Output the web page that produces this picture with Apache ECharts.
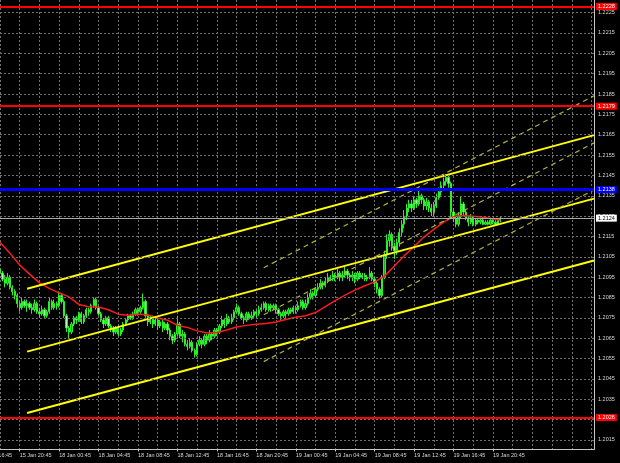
<!DOCTYPE html>
<html><head><meta charset="utf-8">
<script src="https://cdn.jsdelivr.net/npm/echarts/dist/echarts.min.js"></script>
<style>html,body{margin:0;padding:0;background:#000}#c{width:620px;height:463px}</style>
</head><body><div id="c"></div>
<script>
// ---- data (EURUSD M15) ----
const opens = [
1.2099,1.2097,1.2094,1.2092,1.2095,1.2090,1.2088,1.2086,1.2082,1.2080,
1.2083,1.2081,1.2082,1.2080,1.2079,1.2082,1.2078,1.2077,1.2079,1.2076,
1.2078,1.2083,1.2080,1.2082,1.2081,1.2086,1.2083,1.2076,1.2070,1.2068,
1.2072,1.2075,1.2074,1.2077,1.2073,1.2076,1.2079,1.2078,1.2081,1.2084,
1.2080,1.2077,1.2074,1.2072,1.2075,1.2071,1.2070,1.2068,1.2070,1.2067,
1.2069,1.2072,1.2074,1.2076,1.2075,1.2077,1.2079,1.2078,1.2080,1.2083,
1.2076,1.2073,1.2075,1.2072,1.2074,1.2071,1.2073,1.2070,1.2072,1.2069,
1.2066,1.2064,1.2067,1.2072,1.2066,1.2067,1.2062,1.2061,1.2063,1.2059,
1.2057,1.2062,1.2064,1.2062,1.2066,1.2064,1.2067,1.2066,1.2069,1.2068,
1.2071,1.2074,1.2072,1.2075,1.2073,1.2075,1.2078,1.2080,1.2077,1.2075,
1.2074,1.2077,1.2075,1.2076,1.2078,1.2077,1.2079,1.2080,1.2082,1.2079,
1.2081,1.2080,1.2081,1.2079,1.2077,1.2076,1.2078,1.2077,1.2079,1.2078,
1.2080,1.2079,1.2081,1.2083,1.2080,1.2082,1.2085,1.2087,1.2086,1.2089,
1.2090,1.2092,1.2091,1.2093,1.2095,1.2094,1.2096,1.2095,1.2097,1.2095,
1.2096,1.2098,1.2096,1.2095,1.2096,1.2094,1.2097,1.2095,1.2096,1.2094,
1.2095,1.2097,1.2094,1.2092,1.2089,1.2086,1.2095,1.2106,1.2113,1.2116,
1.2110,1.2108,1.2112,1.2117,1.2121,1.2125,1.2129,1.2131,1.2129,1.2133,
1.2131,1.2135,1.2133,1.2130,1.2132,1.2129,1.2127,1.2130,1.2134,1.2137,
1.2140,1.2142,1.2144,1.2141,1.2127,1.2124,1.2121,1.2125,1.2131,1.2127,
1.2124,1.2122,1.2124,1.2121,1.2123,1.2122,1.2123,1.2121,1.2122,1.2121,
1.2123,1.2122,1.2121,1.2123];
const closes = [
1.2097,1.2094,1.2092,1.2095,1.2090,1.2088,1.2086,1.2082,1.2080,1.2083,
1.2081,1.2082,1.2080,1.2079,1.2082,1.2078,1.2077,1.2079,1.2076,1.2078,
1.2083,1.2080,1.2082,1.2081,1.2086,1.2083,1.2076,1.2070,1.2068,1.2072,
1.2075,1.2074,1.2077,1.2073,1.2076,1.2079,1.2078,1.2081,1.2084,1.2080,
1.2077,1.2074,1.2072,1.2075,1.2071,1.2070,1.2068,1.2070,1.2067,1.2069,
1.2072,1.2074,1.2076,1.2075,1.2077,1.2079,1.2078,1.2080,1.2083,1.2076,
1.2073,1.2075,1.2072,1.2074,1.2071,1.2073,1.2070,1.2072,1.2069,1.2066,
1.2064,1.2067,1.2072,1.2066,1.2067,1.2062,1.2061,1.2063,1.2059,1.2057,
1.2062,1.2064,1.2062,1.2066,1.2064,1.2067,1.2066,1.2069,1.2068,1.2071,
1.2074,1.2072,1.2075,1.2073,1.2075,1.2078,1.2080,1.2077,1.2075,1.2074,
1.2077,1.2075,1.2076,1.2078,1.2077,1.2079,1.2080,1.2082,1.2079,1.2081,
1.2080,1.2081,1.2079,1.2077,1.2076,1.2078,1.2077,1.2079,1.2078,1.2080,
1.2079,1.2081,1.2083,1.2080,1.2082,1.2085,1.2087,1.2086,1.2089,1.2090,
1.2092,1.2091,1.2093,1.2095,1.2094,1.2096,1.2095,1.2097,1.2095,1.2096,
1.2098,1.2096,1.2095,1.2096,1.2094,1.2097,1.2095,1.2096,1.2094,1.2095,
1.2097,1.2094,1.2092,1.2089,1.2086,1.2095,1.2106,1.2113,1.2116,1.2110,
1.2108,1.2112,1.2117,1.2121,1.2125,1.2129,1.2131,1.2129,1.2133,1.2131,
1.2135,1.2133,1.2130,1.2132,1.2129,1.2127,1.2130,1.2134,1.2137,1.2140,
1.2142,1.2144,1.2141,1.2127,1.2124,1.2121,1.2125,1.2131,1.2127,1.2124,
1.2122,1.2124,1.2121,1.2123,1.2122,1.2123,1.2121,1.2122,1.2121,1.2123,
1.2122,1.2121,1.2123,1.2124];
const lows = [
1.2095,1.2093,1.2090,1.2091,1.2089,1.2086,1.2084,1.2080,1.2078,1.2079,
1.2080,1.2078,1.2079,1.2077,1.2078,1.2077,1.2075,1.2076,1.2075,1.2075,
1.2077,1.2079,1.2079,1.2079,1.2080,1.2082,1.2075,1.2068,1.2065,1.2067,
1.2071,1.2072,1.2073,1.2072,1.2072,1.2075,1.2076,1.2077,1.2080,1.2079,
1.2076,1.2073,1.2070,1.2071,1.2070,1.2068,1.2066,1.2067,1.2066,1.2066,
1.2068,1.2071,1.2073,1.2074,1.2074,1.2076,1.2076,1.2077,1.2079,1.2075,
1.2071,1.2072,1.2070,1.2071,1.2069,1.2070,1.2068,1.2069,1.2067,1.2064,
1.2062,1.2063,1.2066,1.2065,1.2063,1.2061,1.2059,1.2060,1.2058,1.20555,
1.2056,1.2061,1.2060,1.2061,1.2062,1.2063,1.2064,1.2065,1.2066,1.2067,
1.2070,1.2070,1.2071,1.2072,1.2072,1.2074,1.2077,1.2076,1.2074,1.2072,
1.2073,1.2074,1.2074,1.2075,1.2075,1.2076,1.2078,1.2079,1.2078,1.2078,
1.2078,1.2079,1.2077,1.2076,1.2074,1.2075,1.2075,1.2076,1.2077,1.2077,
1.2077,1.2078,1.2080,1.2079,1.2079,1.2081,1.2084,1.2084,1.2085,1.2088,
1.2089,1.2089,1.2090,1.2092,1.2093,1.2093,1.2093,1.2094,1.2093,1.2093,
1.2095,1.2094,1.2093,1.2093,1.2092,1.2093,1.2094,1.2094,1.2093,1.2093,
1.2094,1.2093,1.2090,1.2087,1.20845,1.2085,1.2094,1.2104,1.2110,1.2108,
1.2104,1.2106,1.2110,1.2115,1.2119,1.2123,1.2127,1.2127,1.2128,1.2129,
1.2130,1.2131,1.2128,1.2128,1.2127,1.2125,1.2125,1.2129,1.2133,1.2135,
1.2138,1.2140,1.2139,1.21235,1.2122,1.21195,1.2120,1.2124,1.2125,1.2123,
1.2120,1.2121,1.2120,1.2120,1.2121,1.2121,1.21205,1.21205,1.21205,1.21205,
1.2121,1.21205,1.21205,1.2122];
const highs = [
1.2101,1.2098,1.2096,1.2097,1.2096,1.2091,1.2089,1.2087,1.2083,1.2085,
1.2084,1.2084,1.2083,1.2082,1.2084,1.2083,1.2080,1.2081,1.2080,1.2079,
1.2085,1.2084,1.2084,1.2083,1.2088,1.2087,1.2084,1.2077,1.2071,1.2073,
1.2076,1.2076,1.2078,1.2078,1.2077,1.2080,1.2080,1.2082,1.2085,1.2085,
1.2081,1.2078,1.2075,1.2076,1.2076,1.2072,1.2071,1.2071,1.2071,1.2070,
1.2073,1.2075,1.2077,1.2077,1.2078,1.2080,1.2080,1.2081,1.2087,1.2084,
1.2077,1.2076,1.2076,1.2075,1.2075,1.2074,1.2074,1.2073,1.2073,1.2070,
1.2067,1.2068,1.2076,1.2073,1.2069,1.2068,1.2064,1.2065,1.2064,1.2060,
1.2063,1.2066,1.2065,1.2067,1.2067,1.2069,1.2068,1.2070,1.2070,1.2072,
1.2076,1.2075,1.2077,1.2076,1.2077,1.2079,1.2082,1.2081,1.2078,1.2076,
1.2078,1.2078,1.2078,1.2079,1.2079,1.2081,1.2082,1.2083,1.2083,1.2082,
1.2082,1.2082,1.2082,1.2080,1.2078,1.2079,1.2079,1.2080,1.2080,1.2081,
1.2081,1.2083,1.2084,1.2084,1.2084,1.2087,1.2089,1.2088,1.2090,1.2092,
1.2094,1.2093,1.2095,1.2097,1.2096,1.2098,1.2097,1.2099,1.2098,1.2098,
1.2100,1.2099,1.2097,1.2098,1.2097,1.2098,1.2098,1.2097,1.2097,1.2096,
1.2100,1.2098,1.2095,1.2093,1.2090,1.2096,1.2108,1.2116,1.2118,1.2117,
1.2112,1.2114,1.2119,1.2123,1.2128,1.2131,1.2133,1.2133,1.2135,1.2134,
1.21375,1.2136,1.2134,1.2134,1.2133,1.2131,1.2132,1.2136,1.2139,1.2142,
1.2144,1.21455,1.2145,1.2142,1.2129,1.2125,1.2127,1.21345,1.2132,1.2128,
1.2125,1.2126,1.2125,1.2124,1.2124,1.2124,1.2124,1.2123,1.2123,1.2124,
1.2124,1.2123,1.2124,1.21245];

// moving average (red) read at every 4th bar
const maBars = [0,4,8,12,16,20,24,28,32,36,40,44,48,52,56,60,64,68,72,76,80,84,88,92,96,100,
  104,108,112,116,120,124,128,132,136,140,144,148,152,156,160,164,168,172,176,180,184,188,192,196,200,203];
const maValues = [1.21122,1.21068,1.2101,1.20965,1.20922,1.20895,1.20873,1.20853,1.20816,1.20805,
  1.20803,1.2079,1.20768,1.20763,1.20768,1.20765,1.20749,1.20738,1.20713,1.20703,1.20686,1.20676,
  1.20678,1.2069,1.20705,1.20713,1.20718,1.20722,1.2073,1.20742,1.20753,1.2076,1.20776,1.20805,
  1.20835,1.20862,1.20886,1.20908,1.20927,1.20955,1.21005,1.21055,1.2110,1.21147,1.21185,1.2122,
  1.21248,1.21253,1.21249,1.21244,1.21237,1.2123];

// trend channels: [bar index, price]
const solidUpper = [[11, 1.20893], [241, 1.21648]];
const solidMiddle = [[11, 1.20584], [241, 1.21336]];
const solidLower = [[11, 1.20282], [241, 1.21032]];
const dashUpper = [[107, 1.20996], [241, 1.21841]];
const dashMiddle = [[107, 1.20765], [241, 1.21610]];
const dashLower = [[107, 1.20535], [241, 1.21379]];

// horizontal levels
const redLevels = [1.2228, 1.2179, 1.2026];
const blueLevel = 1.2138;
const bidLevel = 1.2124;

// price axis ticks
const yTicks = [1.2015,1.2025,1.2035,1.2045,1.2055,1.2065,1.2075,1.2085,1.2095,1.2105,1.2115,
  1.2125,1.2135,1.2145,1.2155,1.2165,1.2175,1.2185,1.2195,1.2205,1.2215,1.2225];
const yMin = 1.20103, yMax = 1.22312;

// time axis labels
const tickLabels = ['15 Jan 20:45','18 Jan 00:45','18 Jan 04:45','18 Jan 08:45','18 Jan 12:45',
  '18 Jan 16:45','18 Jan 20:45','19 Jan 00:45','19 Jan 04:45','19 Jan 08:45','19 Jan 12:45',
  '19 Jan 16:45','19 Jan 20:45'];
const leadLabel = '15 Jan 16:45';

// bar time slots (15 min, weekend skipped), incl. empty shift area on the right
const times = [];
(function () {
  let day = 15, h = 18, m = 45;
  for (let i = 0; i < 242; i++) {
    times.push(day + ' Jan ' + String(h).padStart(2, '0') + ':' + String(m).padStart(2, '0'));
    m += 15; if (m === 60) { m = 0; h++; }
    if (h === 24) { h = 0; day = (day === 15) ? 18 : day + 1; }
  }
})();

const FONT = 'Liberation Sans, Arial, sans-serif';
const FS = 5.5;
const candleData = opens.map((o, i) => [o, closes[i], lows[i], highs[i]]);
const maData = maBars.map((b, i) => [b, maValues[i]]);
const isGrid = (i, v) => v.slice(-2) === '45' && parseInt(v.slice(-5, -3), 10) % 2 === 0;
const isLabel = (i, v) => tickLabels.indexOf(v) >= 0;

function trend(data, color, width, type) {
  return { type: 'line', data: data, showSymbol: false, silent: true, z: 4,
    lineStyle: { color: color, width: width, type: type } };
}
function level(v, color, width, bg, fg) {
  return { yAxis: v, lineStyle: { color: color, width: width, type: 'solid' },
    label: { show: true, position: 'end', distance: 2, formatter: v.toFixed(4), backgroundColor: bg,
      color: fg, fontSize: FS, fontFamily: FONT, padding: [1, 2, 0, 2] } };
}

const chart = echarts.init(document.getElementById('c'));
chart.setOption({
  backgroundColor: '#000',
  animation: false,
  grid: { left: 0, right: 26, top: 0, bottom: 13.5 },
  xAxis: {
    type: 'category', data: times, boundaryGap: false,
    axisLine: { show: true, lineStyle: { color: '#c8c8c8', width: 1 } },
    axisTick: { show: true, interval: isLabel, length: 2, lineStyle: { color: '#c8c8c8' } },
    axisLabel: { interval: isLabel, align: 'left', margin: 3, fontSize: FS, color: '#d8d8d8', fontFamily: FONT },
    splitLine: { show: true, interval: isGrid, lineStyle: { color: '#707070', type: [2, 2], width: 1 } }
  },
  yAxis: {
    type: 'value', position: 'right', min: yMin, max: yMax,
    axisLine: { show: true, lineStyle: { color: '#c8c8c8', width: 1 } },
    axisTick: { show: false }, axisLabel: { show: false }, splitLine: { show: false }
  },
  series: [
    { type: 'line', data: [], z: 1, silent: true,
      markLine: { symbol: ['none', 'none'], silent: true, animation: false, precision: 5,
        lineStyle: { color: '#707070', type: [2, 2], width: 1 },
        label: { position: 'end', distance: 4, formatter: p => Number(p.value).toFixed(4),
          color: '#d8d8d8', fontSize: FS, fontFamily: FONT },
        data: yTicks.map(v => ({ yAxis: v })) } },
    { type: 'candlestick', data: candleData, z: 2, silent: true, barWidth: 1.8,
      itemStyle: { color: '#12b012', color0: '#a8ffa8', borderColor: '#2af02a', borderColor0: '#2af02a', borderWidth: 1 } },
    { type: 'line', data: maData, showSymbol: false, silent: true, z: 3,
      lineStyle: { color: '#ff1a1a', width: 1.5 } },
    trend(solidUpper, '#ffff00', 2, 'solid'),
    trend(solidMiddle, '#ffff00', 2, 'solid'),
    trend(solidLower, '#ffff00', 2, 'solid'),
    trend(dashUpper, '#b4b43c', 1.2, [5, 4]),
    trend(dashMiddle, '#b4b43c', 1.2, [5, 4]),
    trend(dashLower, '#b4b43c', 1.2, [5, 4]),
    { type: 'line', data: [], z: 5, silent: true,
      markLine: { symbol: ['none', 'none'], silent: true, animation: false, precision: 5,
        data: [
          level(bidLevel, '#a8a8a8', 1, '#ffffff', '#000000'),
          level(blueLevel, '#0000ff', 3, '#0000ff', '#ffffff'),
          level(redLevels[0], '#ff0000', 2, '#ff0000', '#ffffff'),
          level(redLevels[1], '#ff0000', 2, '#ff0000', '#ffffff'),
          level(redLevels[2], '#ff0000', 2, '#ff0000', '#ffffff')
        ] } }
  ]
});
// partially visible leading time label (one label step before the first one)
const p0 = chart.convertToPixel({ xAxisIndex: 0 }, 0);
const p1 = chart.convertToPixel({ xAxisIndex: 0 }, 8);
const step = p1 - p0;
const first = chart.convertToPixel({ xAxisIndex: 0 }, times.indexOf(tickLabels[0]));
chart.setOption({ graphic: [{ type: 'text', x: first - 2 * step, y: 452,
  style: { text: leadLabel, fill: '#d8d8d8', font: FS + 'px ' + FONT } }] });
</script></body></html>
